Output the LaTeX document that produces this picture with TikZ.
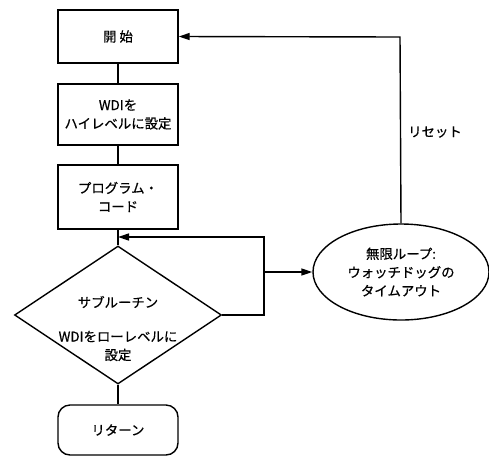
\documentclass[tikz,border=0pt]{standalone}
\usepackage{fontspec}
\setmainfont[FakeBold=0.6]{Noto Sans CJK JP}
\usetikzlibrary{shapes.geometric,arrows.meta}
\begin{document}
\begin{tikzpicture}[x=1pt,y=-1pt,
  every node/.style={font=\fontsize{13.4}{18.5}\selectfont, align=center, inner sep=0pt},
  box/.style={draw, line width=1.4pt, minimum width=120pt},
  dia/.style={draw, line width=1.4pt, diamond, aspect=1.5, minimum width=207pt, minimum height=138pt},
  oval/.style={draw, line width=1.4pt, ellipse, minimum width=176pt, minimum height=96pt},
  term/.style={draw, line width=1.4pt, rounded corners=12pt, minimum width=120pt, minimum height=50pt},
  ln/.style={line width=1.4pt},
  arr/.style={line width=1.4pt, -{Triangle[length=11pt,width=7pt]}}]
\useasboundingbox (0,0) rectangle (489,456);
\node[box, minimum height=53pt] (start) at (118,36.5) {開 始};
\node[box, minimum height=61pt] (wdi) at (118,114.5) {WDIを\\ハイレベルに設定};
\node[box, minimum height=64pt] (prog) at (118,197) {プログラム・\\コード};
\node[dia] (sub) at (118,315) {};
\node at (118,302) {サブルーチン};
\node at (118,346) {WDIをローレベルに\\設定};
\node[oval] (loop) at (401,272) {無限ループ:\\ウォッチドッグの\\タイムアウト};
\node[term] (ret) at (118,430) {リターン};
\coordinate (j) at (118,237);
\coordinate (r1) at (264,315);
\coordinate (r2) at (264,237);
\coordinate (r3) at (264,272);
\coordinate (t) at (400,37);
\node at (435,132) {リセット};
\draw[ln] (start) -- (wdi);
\draw[ln] (wdi) -- (prog);
\draw[ln] (prog) -- (sub.north);
\draw[arr] (sub.east) -- (r1) -- (r2) -- (j);
\draw[arr] (r3) -- (loop.west);
\draw[arr] (loop.north) -- (t) -- (start.east);
\draw[ln] (sub.south) -- (ret);
\end{tikzpicture}
\end{document}
